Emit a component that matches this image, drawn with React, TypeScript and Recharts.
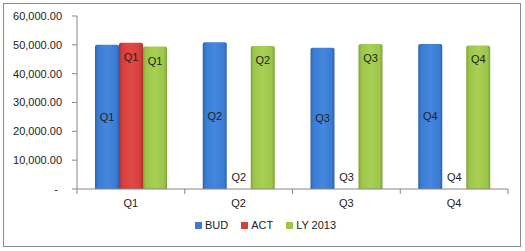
import { BarChart, Bar, XAxis, YAxis, Legend, LabelList } from "recharts";

const quarters = ["Q1", "Q2", "Q3", "Q4"];
const bud = [50000, 50900, 49000, 50300];
const act = [50700, 0, 0, 0];
const ly2013 = [49400, 49600, 50300, 49800];
const yTicks = [0, 10000, 20000, 30000, 40000, 50000, 60000];

const data = quarters.map((q, i) => ({
  q,
  BUD: bud[i],
  ACT: act[i],
  "LY 2013": ly2013[i],
}));

const FONT = "'Liberation Sans', Arial, sans-serif";
const AXIS = "#868686";

const series = [
  { key: "BUD", fill: "url(#gBlue)", swatch: "#3a7bd5" },
  { key: "ACT", fill: "url(#gRed)", swatch: "#d8403c" },
  { key: "LY 2013", fill: "url(#gGreen)", swatch: "#9dc64a" },
];

const fmt = (v: number) =>
  v === 0
    ? "-"
    : v.toLocaleString("en-US", { minimumFractionDigits: 2, maximumFractionDigits: 2 });

const YTick = (props: any) => {
  const { x, y, payload } = props;
  const zero = payload.value === 0;
  return (
    <text
      x={zero ? x - 4 : x}
      y={y}
      dy="0.35em"
      textAnchor="end"
      fontSize={11}
      fontFamily={FONT}
      fill="#222"
    >
      {fmt(payload.value)}
    </text>
  );
};

const XTick = (props: any) => {
  const { x, y, payload, index } = props;
  const half = payload.offset ?? 53.9;
  return (
    <g>
      <line x1={x - half} x2={x - half} y1={y} y2={y + 5} stroke={AXIS} />
      {index === quarters.length - 1 && (
        <line x1={x + half} x2={x + half} y1={y} y2={y + 5} stroke={AXIS} />
      )}
      <text x={x} y={y + 18} textAnchor="middle" fontSize={11} fontFamily={FONT} fill="#222">
        {payload.value}
      </text>
    </g>
  );
};

const Txt = ({ x, y, v }: { x: number; y: number; v: string }) => (
  <text x={x} y={y} textAnchor="middle" fontSize={11} fontFamily={FONT} fill="#222">
    {v}
  </text>
);

// BUD labels sit mid-bar; zero-height ACT bars are not drawn by recharts,
// so their label is placed here, one bar width to the right, just above zero
const budLabel = (props: any) => {
  const { x, y, width, height, value, index } = props;
  return (
    <g>
      <Txt x={x + width / 2} y={y + height / 2 + 4} v={value} />
      {act[index] === 0 && <Txt x={x + width * 1.5} y={y + height - 8} v={value} />}
    </g>
  );
};

const topLabel = (props: any) => {
  const { x, y, width, height, value } = props;
  if (Math.abs(height) < 1) return null;
  return <Txt x={x + width / 2} y={y + 18} v={value} />;
};

const LegendBox = () => (
  <div
    style={{
      display: "flex",
      justifyContent: "center",
      alignItems: "center",
      gap: 13,
      fontFamily: FONT,
      fontSize: 11,
      color: "#222",
      paddingLeft: 6,
    }}
  >
    {series.map((s) => (
      <span key={s.key} style={{ display: "flex", alignItems: "center", gap: 3 }}>
        <span style={{ width: 7, height: 7, background: s.swatch, display: "inline-block" }} />
        {s.key}
      </span>
    ))}
  </div>
);

const Grad = ({ id, dark, base, light }: { id: string; dark: string; base: string; light: string }) => (
  <linearGradient id={id} x1="0" y1="0" x2="1" y2="0">
    <stop offset="0%" stopColor={dark} />
    <stop offset="12%" stopColor={base} />
    <stop offset="50%" stopColor={light} />
    <stop offset="88%" stopColor={base} />
    <stop offset="100%" stopColor={dark} />
  </linearGradient>
);

export default function App() {
  return (
    <div style={{ position: "absolute", left: 0, top: 0, width: 525, height: 251, background: "#fff" }}>
      <svg width={0} height={0} style={{ position: "absolute" }}>
        <defs>
          <Grad id="gBlue" dark="#2c62ad" base="#3a7bd5" light="#4587dc" />
          <Grad id="gRed" dark="#a82e2b" base="#d63e3a" light="#e04a46" />
          <Grad id="gGreen" dark="#7ca334" base="#9cc549" light="#a8d055" />
        </defs>
      </svg>
      <div
        style={{
          position: "absolute",
          left: 3,
          top: 3,
          width: 516,
          height: 242,
          border: "1px solid #8c8c8c",
        }}
      />
      <div style={{ position: "absolute", left: 0, top: 0 }}>
        <BarChart
          width={525}
          height={251}
          data={data}
          margin={{ top: 16, right: 17, left: 0, bottom: 12 }}
          barGap={0}
          barCategoryGap="16.7%"
        >
          <XAxis
            dataKey="q"
            axisLine={{ stroke: AXIS }}
            tickLine={false}
            tickSize={0}
            tickMargin={0}
            height={30}
            tick={<XTick />}
            interval={0}
          />
          <YAxis
            width={77}
            domain={[0, 60000]}
            ticks={yTicks}
            interval={0}
            axisLine={{ stroke: AXIS }}
            tickLine={{ stroke: AXIS }}
            tickSize={5}
            tickMargin={10}
            tick={<YTick />}
          />
          <Legend
            verticalAlign="bottom"
            height={20}
            content={<LegendBox />}
            wrapperStyle={{ left: 0, width: 525 }}
          />
          {series.map((s) => (
            <Bar key={s.key} dataKey={s.key} fill={s.fill} isAnimationActive={false} radius={[2, 2, 0, 0]}>
              <LabelList dataKey="q" content={s.key === "BUD" ? budLabel : topLabel} />
            </Bar>
          ))}
        </BarChart>
      </div>
    </div>
  );
}
